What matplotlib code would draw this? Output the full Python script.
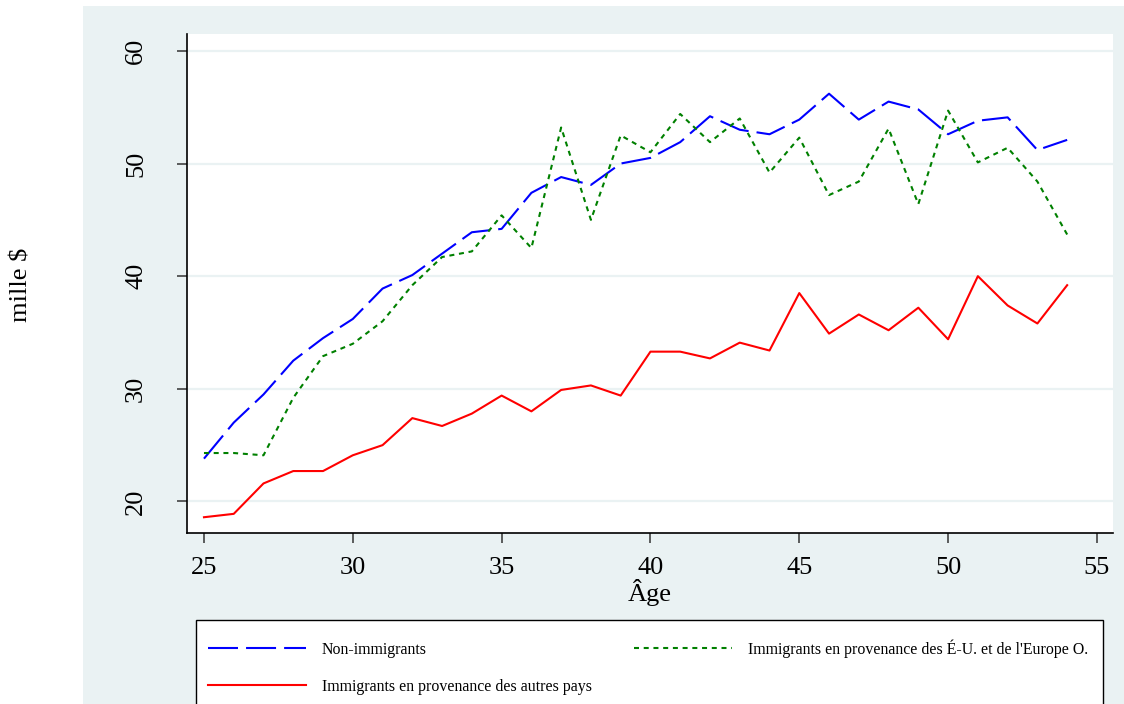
import numpy as np
import matplotlib
matplotlib.use("Agg")
import matplotlib.pyplot as plt
from matplotlib.patches import Rectangle

plt.rcParams['font.family'] = ['Liberation Serif', 'DejaVu Serif']
plt.rcParams['lines.scale_dashes'] = False

# data (thousands of dollars by age)
ages = np.arange(25, 55)
non_immigrants = [23.8, 27.0, 29.5, 32.5, 34.5, 36.2, 38.9, 40.1, 42.0, 43.9,
                  44.2, 47.4, 48.8, 48.1, 50.0, 50.5, 51.9, 54.2, 53.0, 52.6,
                  53.9, 56.2, 53.9, 55.5, 54.8, 52.6, 53.8, 54.1, 51.2, 52.1]
us_west_europe = [24.3, 24.3, 24.1, 29.2, 32.9, 34.0, 36.0, 39.2, 41.7, 42.2,
                  45.4, 42.5, 53.2, 45.0, 52.5, 51.0, 54.4, 51.9, 54.0, 49.2,
                  52.3, 47.2, 48.4, 53.1, 46.4, 54.7, 50.1, 51.4, 48.4, 43.7]
other_countries = [18.6, 18.9, 21.6, 22.7, 22.7, 24.1, 25.0, 27.4, 26.7, 27.8,
                   29.4, 28.0, 29.9, 30.3, 29.4, 33.3, 33.3, 32.7, 34.1, 33.4,
                   38.5, 34.9, 36.6, 35.2, 37.2, 34.4, 40.0, 37.4, 35.8, 39.2]

labels = ['Non-immigrants',
          "Immigrants en provenance des É-U. et de l'Europe O.",
          'Immigrants en provenance des autres pays']

bg = '#eaf2f3'
W, H = 1124, 704

fig = plt.figure(figsize=(W / 100, H / 100), dpi=100)
fig.patch.set_facecolor('white')
# light graph region and legend frame (frame runs past the bottom edge)
fig.patches.append(Rectangle((83 / W, 0), 1, 1 - 6 / H, transform=fig.transFigure,
                             facecolor=bg, edgecolor='none', zorder=-10))
fig.patches.append(Rectangle((196 / W, -0.05), (1103 - 196) / W, 0.05 + 1 - 620 / H,
                             transform=fig.transFigure, facecolor='white',
                             edgecolor='black', lw=1.0, zorder=-5))

ax = fig.add_axes([187.3 / W, 1 - 533 / H, (1113 - 187.3) / W, (533 - 34) / H])
ax.set_facecolor('white')

l1, = ax.plot(ages, non_immigrants, color='#0000ff', lw=1.5, label=labels[0])
l1.set_dashes((21.6, 5.8))
l2, = ax.plot(ages, us_west_europe, color='#008000', lw=1.5, label=labels[1])
l2.set_dashes((3.6, 3.4))
l3, = ax.plot(ages, other_countries, color='#ff0000', lw=1.5, label=labels[2])

ax.set_xlim(24.44, 55.54)
ax.set_ylim(17.2, 61.5)
ax.set_xticks(np.arange(25, 56, 5))
ax.set_yticks(np.arange(20, 61, 10))
ax.yaxis.grid(True, color=bg, lw=1.6)
ax.set_axisbelow(True)

for s in ['top', 'right']:
    ax.spines[s].set_visible(False)
for s in ['left', 'bottom']:
    ax.spines[s].set_linewidth(1.2)

ax.tick_params(axis='both', direction='out', length=7, width=1.1, color='#333333',
               labelsize=19)
ax.tick_params(axis='x', pad=10)
ax.tick_params(axis='y', pad=22)
for t in ax.get_yticklabels():
    t.set_rotation(90)
    t.set_va('center')

ax.set_xlabel('Âge', fontsize=19)
ax.xaxis.set_label_coords(0.5, -0.093)
ax.set_ylabel('mille $', fontsize=19)
ax.yaxis.set_label_coords(-0.167, 0.497)

leg = fig.legend(handles=[l1, l3, l2], loc='upper left', ncol=2, mode='expand',
                 bbox_to_anchor=(208 / W, 0, (1088 - 208) / W, 1 - 639 / H),
                 fontsize=11.4, frameon=False, handlelength=6.2, handletextpad=1.0,
                 labelspacing=1.35, borderpad=0, borderaxespad=0)

fig.savefig('out.png', dpi=100, facecolor=fig.get_facecolor())
